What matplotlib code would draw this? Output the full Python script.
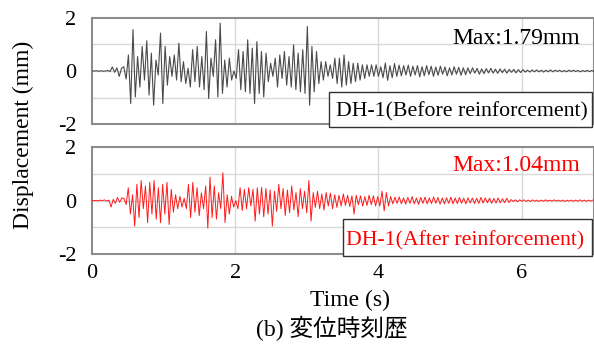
import numpy as np
import matplotlib
matplotlib.use("Agg")
import matplotlib.pyplot as plt
from matplotlib.patches import Rectangle

plt.rcParams['font.family'] = ['Liberation Serif', 'Noto Sans CJK JP', 'DejaVu Sans']
plt.rcParams['axes.unicode_minus'] = False

# displacement peaks (mm), one value per half cycle
DT_BEFORE = 0.032
disp_before = [
    0.0, 0.0, 0.01, -0.01, 0.01, -0.01, 0.0, 0.02, -0.02, 0.15, -0.05, 0.12, -0.2, 0.1, 0.16, -0.3,
    0.6, -1.22, 1.55, -0.97, 0.54, -0.6, 0.92, -0.34, 1.13, -0.9,
    0.67, -1.28, 0.41, -0.15, 1.42, -1.22, 0.92, -0.53, 0.54, -0.2,
    0.6, -0.34, 1.04, -0.4, 0.35, -0.47, 0.1, -0.6, 0.8, -0.4,
    0.92, -0.6, 0.54, -0.7, 1.48, -1.03, 0.48, -0.2, 1.17, -0.97,
    1.79, -0.84, 0.41, -0.6, 0.48, -0.34, 0.0, -0.28, 0.8, -0.7,
    0.73, -0.78, 1.17, -0.84, 0.86, -1.22, 1.1, -0.84,
    0.73, -0.97, 0.67, -0.4, 0.29, -0.2, 0.48,
    -0.6, 0.6, -0.28, 0.73, -0.53, 0.54, -0.6, 0.98, -0.7, 0.67,
    -0.78, 0.8, -0.84, 1.67, -1.28, 0.92, -0.78, 0.73, -0.47, 0.35,
    -0.34, 0.35, -0.2, 0.23, -0.28, 0.48, -0.47, 0.48, -0.6, 0.6,
    -0.53, 0.35, -0.47, 0.29, -0.4, 0.29, -0.34, 0.23, -0.28, 0.23,
    -0.2, 0.23, -0.2, 0.23, -0.2, 0.16,
    -0.25, 0.3, -0.35, 0.2, -0.25, 0.28, -0.2, 0.22,
    -0.18, 0.2, -0.15, 0.22, -0.2, 0.18, -0.15, 0.2, -0.22, 0.16,
    -0.18, 0.2, -0.14, 0.18, -0.2, 0.15, -0.16, 0.18, -0.12, 0.15,
    -0.18, 0.12, -0.15, 0.16, -0.12, 0.14, -0.16, 0.12, -0.14, 0.12,
    -0.1, 0.12, -0.08, 0.1, -0.12, 0.08, -0.1, 0.09, -0.07, 0.1, -0.08, 0.07,
    -0.09, 0.08, -0.06, 0.07, -0.08, 0.06, -0.05, 0.06, -0.07, 0.05, -0.06, 0.05,
    -0.04, 0.03, -0.04, 0.04, -0.03, 0.04, -0.03, 0.03, -0.04, 0.03, -0.03, 0.04, -0.03, 0.03,
    -0.02, 0.03, -0.03, 0.02, -0.03, 0.03, -0.02, 0.03, -0.02, 0.02, -0.03, 0.02, -0.02, 0.02,
    -0.02, 0.02, -0.02,
]

DT_AFTER = 0.030
disp_after = [
    0.0, 0.0, 0.01, -0.01, 0.02, 0.0, 0.03, -0.02, 0.02, -0.24, 0.05, -0.1, 0.12, -0.06, 0.1, 0.08, -0.15,
    0.48, -0.5, 0.22, -0.95, 0.61, -0.63, 0.75, -0.3, 0.55, -0.82,
    0.68, -0.5, 0.75, -0.69, 0.48, -0.82, 0.61, -0.5, 0.68, -0.89,
    0.42, -0.43, 0.22, -0.3, 0.16, -0.24, 0.09, -0.3, 0.61, -0.63,
    0.68, -0.43, 0.48, -0.56, 0.29, -0.3, 0.55, -1.02, 0.88, -0.63,
    0.55, -0.69, 0.29, -0.3, 1.04, -0.82, 0.22, -0.5, 0.16, -0.24,
    0.0, -0.3, 0.48, -0.37, 0.42, -0.3, 0.48, -0.2, 0.42, -0.76,
    0.48, -0.5,
    0.5, -0.6, 0.45, -0.5, 0.4, -0.95, 0.35, -0.4, 0.61, -0.3,
    0.45, -0.55, 0.4, -0.45, 0.55, -0.35, 0.3, -0.6, 0.45, -0.3,
    0.35, -0.45, 0.75, -0.76, 0.3, -0.25, 0.35, -0.3, 0.25, -0.35,
    0.3, -0.2, 0.28, -0.3, 0.22, -0.25, 0.2, -0.2, 0.25, -0.18,
    0.2, -0.22, 0.18, -0.5, 0.2, -0.15, 0.18, -0.2, 0.15, -0.18,
    0.2, -0.15, 0.18, -0.2, 0.15,
    -0.2, 0.35, -0.38, 0.3, -0.2,
    0.15, -0.12, 0.13, -0.1, 0.14, -0.12, 0.1, -0.13, 0.12, -0.1,
    0.15, -0.12, 0.1, -0.14, 0.12, -0.1, 0.13, -0.12, 0.1, -0.11,
    0.14, -0.1, 0.12, -0.13, 0.1, -0.12, 0.11, -0.1, 0.13, -0.12,
    0.1, -0.11, 0.12, -0.1, 0.09, -0.12, 0.11, -0.09, 0.1, -0.11,
    0.09, -0.1, 0.12, -0.09, 0.1, -0.08, 0.09, -0.1, 0.08, -0.09,
    0.1, -0.08, 0.07, -0.08, 0.09, -0.07,
    0.04, -0.03, 0.03, -0.04, 0.03, -0.02, 0.03, -0.03, 0.02, -0.03, 0.03, -0.02,
    0.02, -0.03, 0.02, -0.02, 0.03, -0.02, 0.02, -0.02, 0.03, -0.02, 0.02, -0.02,
    0.02, -0.03, 0.02, -0.02, 0.02, -0.02, 0.02, -0.02, 0.03, -0.02, 0.02, -0.02,
    0.02, -0.02, 0.02,
]

max_before = 1.79
max_after = 1.04
label_before = "DH-1(Before reinforcement)"
label_after = "DH-1(After reinforcement)"
x_ticks = [0, 2, 4, 6]
y_ticks = [-2, 0, 2]
grid_y = [-1, 0, 1]

W, H = 594, 345


def fx(px):
    return px / W


def fy(px):
    return 1 - px / H


def px_rect(left, top, right, bottom):
    return [fx(left), fy(bottom), (right - left) / W, (bottom - top) / H]


fig = plt.figure(figsize=(W / 100, H / 100), dpi=100)
ax1 = fig.add_axes(px_rect(91.7, 17.6, 593.5, 124.4))
ax2 = fig.add_axes(px_rect(91.7, 147, 593.5, 254.3))

t_before = np.arange(len(disp_before)) * DT_BEFORE
t_after = np.arange(len(disp_after)) * DT_AFTER
ax1.plot(t_before, disp_before, color='#4a4a4a', lw=0.8, zorder=3)
ax2.plot(t_after, disp_after, color='#ff1a1a', lw=0.7, zorder=3)

for ax in (ax1, ax2):
    ax.set_xlim(0, 7)
    ax.set_ylim(-2, 2)
    ax.set_xticks(x_ticks)
    ax.set_yticks(y_ticks)
    ax.tick_params(length=0, labelsize=16, pad=11)
    for g in grid_y:
        ax.axhline(g, color='#d9d9d9', lw=1.0, zorder=1)
    for g in x_ticks[1:]:
        ax.axvline(g, color='#d9d9d9', lw=1.0, zorder=1)
    for s in ax.spines.values():
        s.set_color('#8c8c8c')
        s.set_linewidth(1.5)
ax1.set_xticklabels([])
ax2.tick_params(axis='x', pad=7)

# max annotations and series labels
fig.text(fx(580), fy(44.3), f"Max:{max_before}mm", ha='right', va='baseline',
         fontsize=17, color='black')
fig.text(fx(580), fy(170.7), f"Max:{max_after}mm", ha='right', va='baseline',
         fontsize=17, color='#ff0000')

fig.add_artist(Rectangle((fx(329), fy(126.7)), (592 - 329) / W, (126.7 - 91.7) / H,
                         transform=fig.transFigure, facecolor='white',
                         edgecolor='#333333', lw=1.0, zorder=5))
fig.text(fx(336), fy(116.7), label_before, ha='left', va='baseline',
         fontsize=15.7, color='black', zorder=6)
fig.add_artist(Rectangle((fx(342.7), fy(255.5)), (592 - 342.7) / W, (255.5 - 219) / H,
                         transform=fig.transFigure, facecolor='white',
                         edgecolor='#333333', lw=1.0, zorder=5))
fig.text(fx(346), fy(245), label_after, ha='left', va='baseline',
         fontsize=15.7, color='#ff0000', zorder=6)

fig.text(fx(23), fy(135), "Displacement (mm)", rotation=90, ha='center', va='center',
         fontsize=17)
fig.text(fx(350), fy(300), "Time (s)", ha='center', va='center', fontsize=17)
fig.text(fx(332), fy(328), "(b) 変位時刻歴", ha='center', va='center', fontsize=17)

fig.savefig("out.png", dpi=100)
